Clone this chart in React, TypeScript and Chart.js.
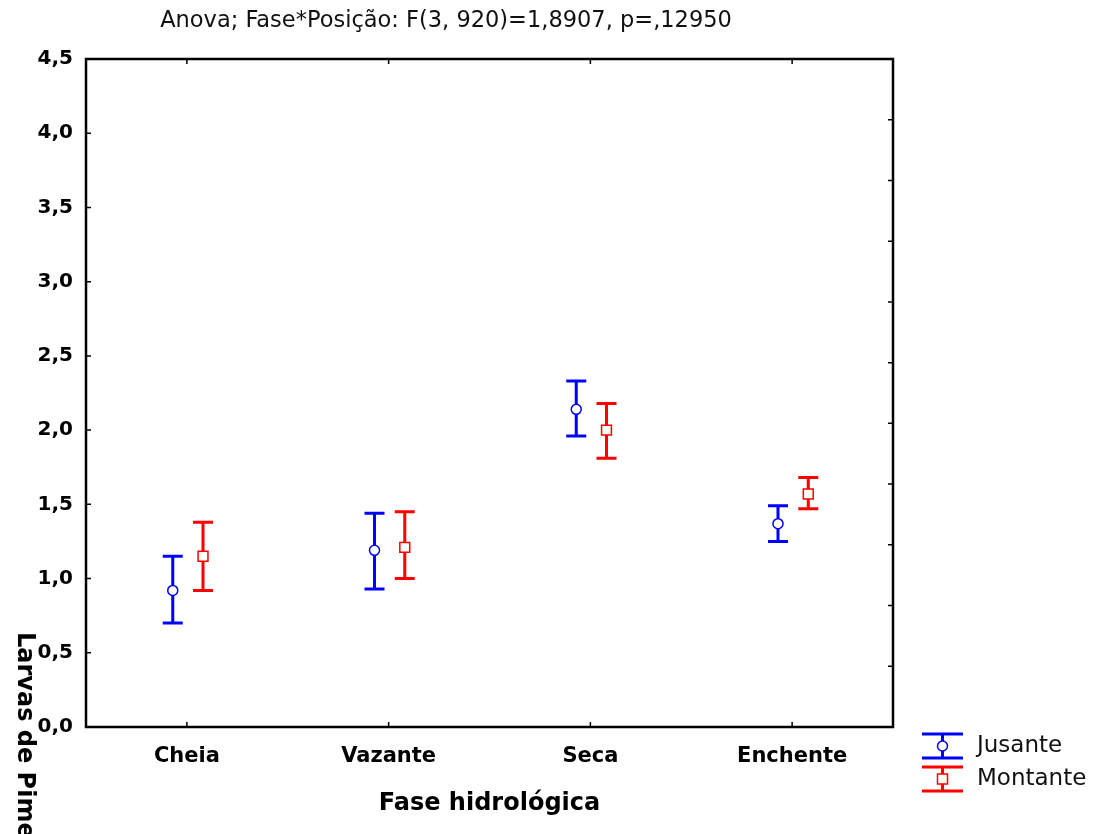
import React, { useEffect, useRef } from "react";
import { Chart, registerables } from "chart.js";

Chart.register(...registerables);

const categories = ["Cheia", "Vazante", "Seca", "Enchente"];
const seriesNames = ["Jusante", "Montante"];
const seriesColors = ["#0000FF", "#FF0000"];
const seriesOffsets = [-0.07, 0.08];

const jusanteMean = [0.92, 1.19, 2.14, 1.37];
const jusanteLow = [0.7, 0.93, 1.96, 1.25];
const jusanteHigh = [1.15, 1.44, 2.33, 1.49];

const montanteMean = [1.15, 1.21, 2.0, 1.57];
const montanteLow = [0.92, 1.0, 1.81, 1.47];
const montanteHigh = [1.38, 1.45, 2.18, 1.68];

const yTickValues = [0, 0.5, 1, 1.5, 2, 2.5, 3, 3.5, 4, 4.5];
const rightTickValues = [1, 2, 3, 4, 5, 6, 7, 8, 9, 10];

const chartTitle = "Anova; Fase*Posição: F(3, 920)=1,8907, p=,12950";
const xTitle = "Fase hidrológica";
const yTitle = "Larvas de Pimelodidae";

const means = [jusanteMean, montanteMean];
const lows = [jusanteLow, montanteLow];
const highs = [jusanteHigh, montanteHigh];

const FONT = "'DejaVu Sans', sans-serif";

const decorPlugin = {
  id: "decor",
  beforeDatasetsDraw(chart: any) {
    const { ctx, scales } = chart;
    const x = scales.x;
    const y = scales.y;
    chart.data.datasets.forEach((ds: any, di: number) => {
      ctx.save();
      ctx.strokeStyle = seriesColors[di];
      ctx.lineWidth = 3;
      ds.data.forEach((pt: any, i: number) => {
        const px = x.getPixelForValue(pt.x);
        const pLo = y.getPixelForValue(lows[di][i]);
        const pHi = y.getPixelForValue(highs[di][i]);
        ctx.beginPath();
        ctx.moveTo(px, pLo);
        ctx.lineTo(px, pHi);
        ctx.moveTo(px - 10, pLo);
        ctx.lineTo(px + 10, pLo);
        ctx.moveTo(px - 10, pHi);
        ctx.lineTo(px + 10, pHi);
        ctx.stroke();
      });
      ctx.restore();
    });
  },
  afterDraw(chart: any) {
    const { ctx, chartArea: ca, scales } = chart;
    const x = scales.x;
    const y = scales.y;
    const y2 = scales.y2;
    ctx.save();
    // frame
    ctx.strokeStyle = "#000";
    ctx.lineWidth = 2.5;
    ctx.strokeRect(ca.left, ca.top, ca.right - ca.left, ca.bottom - ca.top);
    // inward ticks
    ctx.lineWidth = 1.5;
    ctx.beginPath();
    yTickValues.forEach((v) => {
      const py = y.getPixelForValue(v);
      ctx.moveTo(ca.left, py);
      ctx.lineTo(ca.left + 5, py);
    });
    categories.forEach((_, i) => {
      const px = x.getPixelForValue(i);
      ctx.moveTo(px, ca.bottom);
      ctx.lineTo(px, ca.bottom - 5);
      ctx.moveTo(px, ca.top);
      ctx.lineTo(px, ca.top + 5);
    });
    rightTickValues.forEach((v) => {
      const py = y2.getPixelForValue(v);
      ctx.moveTo(ca.right, py);
      ctx.lineTo(ca.right - 5, py);
    });
    ctx.stroke();

    // title
    ctx.fillStyle = "#111";
    ctx.font = `22.5px ${FONT}`;
    ctx.textAlign = "center";
    ctx.textBaseline = "middle";
    ctx.fillText(chartTitle, 446, 21);

    // y title (rotated clockwise, reading downward)
    ctx.save();
    ctx.translate(24, 632);
    ctx.rotate(Math.PI / 2);
    ctx.font = `bold 24px ${FONT}`;
    ctx.textAlign = "left";
    ctx.textBaseline = "middle";
    ctx.fillStyle = "#000";
    ctx.fillText(yTitle, 0, 0);
    ctx.restore();

    // legend
    seriesNames.forEach((name, i) => {
      const cy = 746 + i * 33;
      const cx = 942.5;
      ctx.strokeStyle = seriesColors[i];
      ctx.lineWidth = 3;
      ctx.beginPath();
      ctx.moveTo(922, cy - 12);
      ctx.lineTo(963, cy - 12);
      ctx.moveTo(922, cy + 12);
      ctx.lineTo(963, cy + 12);
      ctx.moveTo(cx, cy - 12);
      ctx.lineTo(cx, cy + 12);
      ctx.stroke();
      ctx.lineWidth = 1.5;
      ctx.fillStyle = "#fff";
      ctx.beginPath();
      if (i === 0) {
        ctx.arc(cx, cy, 5, 0, Math.PI * 2);
      } else {
        ctx.rect(cx - 5, cy - 5, 10, 10);
      }
      ctx.fill();
      ctx.stroke();
      ctx.fillStyle = "#111";
      ctx.font = `23px ${FONT}`;
      ctx.textAlign = "left";
      ctx.textBaseline = "middle";
      ctx.fillText(name, 977, cy);
    });
    ctx.restore();
  },
};

export default function App() {
  const canvasRef = useRef<HTMLCanvasElement | null>(null);

  useEffect(() => {
    document.body.style.margin = "0";
    const canvas = canvasRef.current;
    if (!canvas) return;
    Chart.defaults.font.family = FONT;
    Chart.defaults.color = "#000";

    const datasets = seriesNames.map((name, di) => ({
      label: name,
      data: means[di].map((v, i) => ({ x: i + seriesOffsets[di], y: v })),
      showLine: false,
      pointStyle: di === 0 ? "circle" : "rect",
      pointRadius: di === 0 ? 5 : 7,
      pointHoverRadius: di === 0 ? 5 : 7,
      pointBorderWidth: 1.5,
      borderColor: seriesColors[di],
      backgroundColor: "#ffffff",
      pointBackgroundColor: "#ffffff",
      pointBorderColor: seriesColors[di],
    }));

    const chart = new Chart(canvas, {
      type: "scatter",
      data: { datasets },
      plugins: [decorPlugin],
      options: {
        animation: false,
        responsive: false,
        devicePixelRatio: 1,
        events: [],
        layout: { padding: { left: 0, top: 59, right: 203, bottom: 0 } },
        plugins: {
          legend: { display: false },
          title: { display: false },
          tooltip: { enabled: false },
        },
        scales: {
          x: {
            type: "linear",
            min: -0.5,
            max: 3.5,
            grid: { display: false },
            border: { display: false },
            afterBuildTicks: (s: any) => {
              s.ticks = categories.map((_, i) => ({ value: i }));
            },
            afterFit: (s: any) => {
              s.height = 107;
            },
            ticks: {
              autoSkip: false,
              maxRotation: 0,
              padding: 9,
              font: { size: 21, weight: "bold", family: FONT },
              color: "#000",
              callback: (v: any) => categories[Math.round(Number(v))] ?? "",
            },
            title: {
              display: true,
              text: xTitle,
              color: "#000",
              font: { size: 24, weight: "bold", family: FONT },
              padding: { top: 0, bottom: 16 },
            },
          },
          y: {
            type: "linear",
            min: 0,
            max: 4.5,
            grid: { display: false },
            border: { display: false },
            afterBuildTicks: (s: any) => {
              s.ticks = yTickValues.map((v) => ({ value: v }));
            },
            afterFit: (s: any) => {
              s.width = 86;
            },
            ticks: {
              padding: 5,
              font: { size: 20, weight: "bold", family: FONT },
              color: "#000",
              callback: (v: any) => Number(v).toFixed(1).replace(".", ","),
            },
          },
          y2: {
            type: "linear",
            position: "right",
            display: false,
            min: 0,
            max: 11,
          },
        },
      } as any,
    });

    return () => chart.destroy();
  }, []);

  return (
    <div style={{ position: "fixed", left: 0, top: 0, width: 1096, height: 834, background: "#fff" }}>
      <canvas ref={canvasRef} width={1096} height={834} style={{ width: 1096, height: 834, display: "block" }} />
    </div>
  );
}
